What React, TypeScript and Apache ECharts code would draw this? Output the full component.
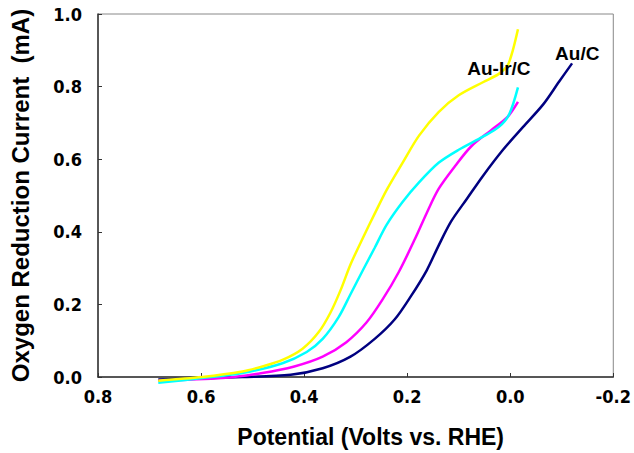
import React, { useEffect, useRef } from "react";
import * as echarts from "echarts";

const xTicks = [0.8, 0.6, 0.4, 0.2, 0.0, -0.2];
const yTicks = [0.0, 0.2, 0.4, 0.6, 0.8, 1.0];

const yellow: [number, number][] = [
  [0.683, -0.01], [0.598, 0.0], [0.52, 0.015], [0.481, 0.029], [0.442, 0.047],
  [0.403, 0.078], [0.372, 0.123], [0.349, 0.177], [0.329, 0.24], [0.31, 0.31],
  [0.286, 0.383], [0.263, 0.45], [0.24, 0.515], [0.209, 0.59], [0.177, 0.665],
  [0.139, 0.73], [0.1, 0.776], [0.053, 0.812], [0.022, 0.835], [0.005, 0.859],
  [-0.005, 0.9], [-0.015, 0.958],
];
const cyan: [number, number][] = [
  [0.683, -0.016], [0.598, -0.003], [0.52, 0.011], [0.442, 0.038], [0.395, 0.069],
  [0.364, 0.105], [0.333, 0.165], [0.31, 0.228], [0.286, 0.294], [0.263, 0.356],
  [0.24, 0.419], [0.209, 0.482], [0.177, 0.536], [0.139, 0.59], [0.1, 0.626],
  [0.053, 0.662], [0.022, 0.689], [0.002, 0.724], [-0.015, 0.798],
];
const magenta: [number, number][] = [
  [0.683, -0.01], [0.559, -0.003], [0.481, 0.011], [0.419, 0.029], [0.364, 0.056],
  [0.318, 0.096], [0.279, 0.15], [0.248, 0.213], [0.216, 0.29], [0.185, 0.38],
  [0.162, 0.452], [0.139, 0.518], [0.107, 0.581], [0.076, 0.635], [0.037, 0.68],
  [0.006, 0.715], [-0.015, 0.758],
];
const navy: [number, number][] = [
  [0.683, -0.007], [0.52, 0.0], [0.426, 0.006], [0.364, 0.024], [0.31, 0.056],
  [0.263, 0.105], [0.224, 0.159], [0.193, 0.222], [0.162, 0.294], [0.139, 0.362],
  [0.115, 0.428], [0.084, 0.491], [0.053, 0.554], [0.014, 0.626], [-0.025, 0.689],
  [-0.064, 0.751], [-0.095, 0.814], [-0.12, 0.864],
];

const labelAuIr = { text: "Au-Ir/C", coord: [0.022, 0.85] };
const labelAu = { text: "Au/C", coord: [-0.13, 0.892] };

const tickFont = "'DejaVu Sans Condensed', 'Liberation Sans Narrow', sans-serif";
const nameFont = "'Liberation Sans', Arial, sans-serif";

export default function App() {
  const ref = useRef<HTMLDivElement>(null);
  useEffect(() => {
    if (!ref.current) return;
    const chart = echarts.init(ref.current, undefined, { renderer: "svg" });
    const mkLine = (data: [number, number][], color: string, mark?: { text: string; coord: number[] }) => ({
      type: "line",
      data,
      smooth: 0.3,
      symbol: "none",
      clip: false,
      lineStyle: { color, width: 2.5 },
      markPoint: mark
        ? {
            symbol: "circle",
            symbolSize: 0,
            data: [{ coord: mark.coord, value: mark.text }],
            label: {
              show: true,
              formatter: mark.text,
              color: "#000",
              fontFamily: nameFont,
              fontWeight: "bold",
              fontSize: 19,
              position: "inside",
            },
          }
        : undefined,
    });
    chart.setOption({
      animation: false,
      backgroundColor: "#fff",
      grid: {
        left: 97,
        right: 13,
        top: 14,
        bottom: 67,
        show: true,
        borderColor: "#888",
        borderWidth: 1,
      },
      xAxis: {
        type: "value",
        inverse: true,
        min: -0.2,
        max: 0.8,
        interval: 0.2,
        name: "Potential (Volts vs. RHE)",
        nameLocation: "middle",
        nameGap: 48,
        nameTextStyle: {
          fontFamily: nameFont,
          fontWeight: "bold",
          fontSize: 23,
          color: "#000",
          padding: [0, 0, 0, 30],
        },
        axisLine: { onZero: false, lineStyle: { color: "#333", width: 1.5 } },
        axisTick: { inside: true, length: 4, lineStyle: { color: "#333" } },
        splitLine: { show: false },
        axisLabel: {
          formatter: (v: number) => (xTicks.some((t) => Math.abs(t - v) < 1e-9) ? v.toFixed(1) : ""),
          fontFamily: tickFont,
          fontWeight: "bold",
          fontSize: 18,
          color: "#000",
          margin: 10,
        },
      },
      yAxis: {
        type: "value",
        min: 0,
        max: 1,
        interval: 0.2,
        name: "Oxygen Reduction Current  (mA)",
        nameLocation: "middle",
        nameGap: 66,
        nameTextStyle: { fontFamily: nameFont, fontWeight: "bold", fontSize: 24, color: "#000" },
        axisLine: { show: true, onZero: false, lineStyle: { color: "#333", width: 1.5 } },
        axisTick: { show: true, inside: true, length: 4, lineStyle: { color: "#333" } },
        splitLine: { show: false },
        axisLabel: {
          formatter: (v: number) => (yTicks.some((t) => Math.abs(t - v) < 1e-9) ? v.toFixed(1) : ""),
          fontFamily: tickFont,
          fontWeight: "bold",
          fontSize: 18,
          color: "#000",
          margin: 16,
          padding: [10, 0, 0, 0],
        },
      },
      series: [
        mkLine(navy, "#000080", labelAu),
        mkLine(magenta, "#ff00ff"),
        mkLine(cyan, "#00ffff"),
        mkLine(yellow, "#ffff00", labelAuIr),
      ],
    });
    return () => chart.dispose();
  }, []);
  return <div ref={ref} style={{ width: 634, height: 453, position: "absolute", left: 0, top: 0 }} />;
}
